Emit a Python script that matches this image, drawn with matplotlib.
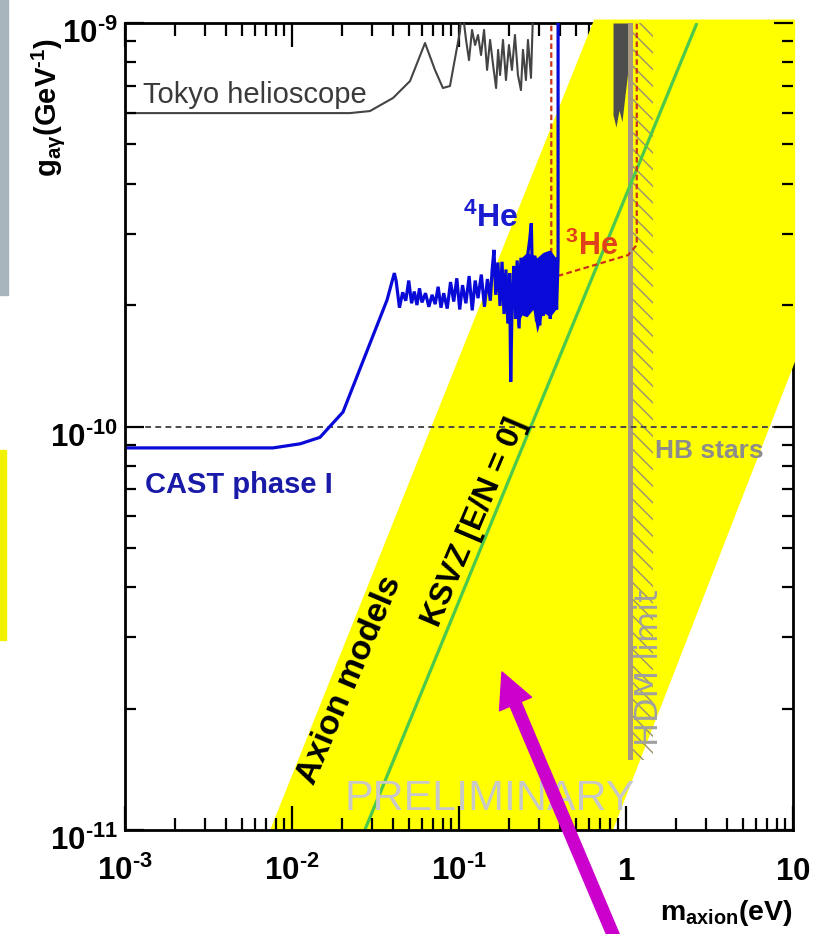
import numpy as np
import matplotlib
matplotlib.use('Agg')
import matplotlib.pyplot as plt
from matplotlib.patches import FancyArrowPatch, Rectangle
from matplotlib.transforms import ScaledTranslation

ARIAL = ['Liberation Sans', 'DejaVu Sans']
plt.rcParams['font.family'] = ARIAL
plt.rcParams['mathtext.fontset'] = 'custom'
for k in ['rm', 'bf', 'it', 'sf']:
    plt.rcParams['mathtext.' + k] = 'Liberation Sans:bold'
plt.rcParams['mathtext.default'] = 'rm'
plt.rcParams['hatch.linewidth'] = 1.0

# ---------------- data ----------------
x_lim = (1e-3, 10)
y_lim = (1e-11, 1e-9)
xtick_vals = [1e-3, 1e-2, 1e-1, 1, 10]
xtick_labels = [r'$10^{\text{-}3}$', r'$10^{\text{-}2}$', r'$10^{\text{-}1}$', r'$1$', r'$10$']
ytick_vals = [1e-11, 1e-10, 1e-9]
ytick_labels = [r'$10^{\text{-}11}$', r'$10^{\text{-}10}$', r'$10^{\text{-}9}$']

# axion-model band (yellow), vertices (m [eV], g [GeV^-1])
band_m = [0.0074, 0.645, 10.3, 10.3, 0.835]
band_g = [1e-11, 1.02e-9, 1.02e-9, 1.45e-10, 1e-11]

# KSVZ line
ksvz_m = [0.0273, 2.66]
ksvz_g = [1e-11, 1e-9]

# HB stars bound
hb_g = 1e-10

# Tokyo helioscope
tokyo_m = [0.001, 0.0222, 0.0293, 0.0403, 0.0509, 0.0626, 0.0718, 0.0801, 0.0883, 0.1014,
           0.1042, 0.1102, 0.1148, 0.1197, 0.1248, 0.1300, 0.1355, 0.1413, 0.1473, 0.1535,
           0.1600, 0.1668, 0.1715, 0.1762, 0.1834, 0.1911, 0.1991, 0.2075, 0.2163, 0.2254,
           0.2349, 0.2415, 0.2517, 0.2588, 0.2698, 0.2773, 0.2851]
tokyo_g = [5.98, 5.98, 6.05, 6.52, 7.18, 8.92, 7.65, 6.90, 6.98, 9.55,
           11.0, 9.08, 8.09, 9.61, 8.82, 9.34, 8.33, 9.61, 7.65, 9.08,
           7.87, 6.90, 8.58, 7.43, 9.08, 7.22, 8.82, 7.65, 9.34, 7.43,
           6.82, 8.58, 7.22, 9.08, 7.31, 10.5, 12.0]  # x 1e-10

# Tokyo helioscope high-mass part (filled block near 1 eV)
tokyo2_m = [0.836, 0.871, 0.908, 0.946, 0.987, 1.028, 1.06]
tokyo2_g = [5.92, 5.52, 6.08, 5.69, 6.64, 7.65, 9.08]  # x 1e-10, lower edge

# CAST phase I + 4He
cast_m = [0.001, 0.0077, 0.0112, 0.0147, 0.0202, 0.0371]
cast_g = [0.885, 0.885, 0.906, 0.94, 1.086, 2.06]  # x 1e-10
he4_m = [0.041, 0.042, 0.044, 0.046, 0.048, 0.050, 0.052, 0.054, 0.056, 0.058,
         0.060, 0.063, 0.066, 0.069, 0.072, 0.075, 0.078, 0.081, 0.085, 0.089,
         0.093, 0.097, 0.101, 0.105, 0.110, 0.115, 0.120, 0.125, 0.130, 0.136,
         0.142, 0.148, 0.154, 0.158, 0.162, 0.166, 0.171, 0.176, 0.181, 0.186,
         0.191, 0.196, 0.201, 0.204, 0.208, 0.213, 0.218, 0.223, 0.229, 0.235,
         0.241, 0.247, 0.253, 0.259, 0.265, 0.271, 0.277, 0.284, 0.291, 0.298,
         0.305, 0.312, 0.320, 0.328, 0.336, 0.344, 0.352, 0.360, 0.368, 0.376,
         0.384, 0.392, 0.392]
he4_g = [2.40, 2.30, 1.97, 2.15, 2.05, 2.30, 2.02, 2.16, 2.00, 2.20,
         2.03, 2.14, 1.98, 2.12, 2.01, 2.22, 1.97, 2.14, 1.96, 2.28,
         2.04, 2.33, 1.95, 2.24, 2.02, 2.36, 1.94, 2.30, 2.08, 2.38,
         1.98, 2.32, 2.05, 2.45, 2.74, 2.12, 2.55, 1.99, 2.56, 1.90,
         2.45, 1.80, 2.40, 1.29, 2.05, 2.50, 1.85, 2.58, 1.75, 2.62,
         1.90, 2.52, 1.95, 2.70, 2.90, 3.19, 2.05, 2.65, 1.82, 2.55,
         1.78, 2.60, 1.88, 2.64, 1.95, 2.70, 1.85, 2.58, 2.00, 2.62,
         1.95, 2.60, 12.0]  # x 1e-10
# envelope of the densely sampled 4He region
he4_env_m = [0.222, 0.238, 0.255, 0.277, 0.293, 0.318, 0.351, 0.387]
he4_env_hi = [2.48, 2.63, 2.70, 2.66, 2.62, 2.70, 2.74, 2.59]  # x 1e-10
he4_env_lo = [1.77, 1.89, 1.87, 1.95, 1.71, 1.92, 1.87, 1.97]  # x 1e-10

# 3He (dashed)
he3_m = [0.357, 0.357, 0.403, 1.03, 1.16, 1.16]
he3_g = [12.0, 2.35, 2.37, 2.66, 2.82, 12.0]  # x 1e-10

# HDM limit
hdm_m = [1.03, 1.10]
hdm_hatch_m = [1.10, 1.45]
hdm_g_low = 1.49e-11

# ---------------- figure ----------------
W, H = 814, 934
fig = plt.figure(figsize=(W / 100, H / 100), dpi=100)
fig.patch.set_facecolor('white')

# slide artefacts at the very left edge
fig.add_artist(Rectangle((0, 1 - 295 / H), 8 / W, 295 / H, transform=fig.transFigure,
                         color='#a9b5bd', zorder=0))
fig.add_artist(Rectangle((0, 1 - 640 / H), 6 / W, 190 / H, transform=fig.transFigure,
                         color='#f2f200', zorder=0))

rect = [125 / W, 1 - 830 / H, 668 / W, 807 / H]
ax_top = fig.add_axes(rect, zorder=0)
ax = fig.add_axes(rect, zorder=1, sharex=ax_top)
ax.patch.set_visible(False)

for a in (ax, ax_top):
    a.set_xscale('log')
    a.set_yscale('log')
    a.set_xlim(*x_lim)
    a.set_ylim(*y_lim)

# top ticks live on the lower axes so the yellow band hides them
ax_top.tick_params(axis='x', which='both', top=True, bottom=False, labeltop=False,
                   labelbottom=False, direction='in', color='black')
ax_top.tick_params(axis='x', which='major', length=17, width=1.6)
ax_top.tick_params(axis='x', which='minor', length=9, width=1.6)
ax_top.tick_params(axis='y', which='both', left=False, right=False, labelleft=False)
for s in ax_top.spines.values():
    s.set_visible(False)

# yellow axion band
ax.fill(band_m, band_g, color='#ffff00', lw=0, zorder=2.6, clip_on=False)

# Tokyo block near 1 eV
ax.fill_between(tokyo2_m, np.array(tokyo2_g) * 1e-10, y_lim[1], color='#4d4d4d', lw=0, zorder=3)

# HDM limit band and hatching
ax.fill_between(hdm_m, hdm_g_low, y_lim[1], color='#a8987f', lw=0, zorder=3)
ax.fill_between(hdm_hatch_m, hdm_g_low, y_lim[1], facecolor='none', edgecolor='#9a9070',
                hatch='\\\\', lw=0, zorder=3)

# KSVZ line
ax.plot(ksvz_m, ksvz_g, color='#4cc94c', lw=2.3, zorder=3.5, solid_capstyle='butt')

# HB stars
ax.axhline(hb_g, color='#4a4a4a', lw=1.4, ls=(0, (3, 2.2)), zorder=3.5)

# Tokyo helioscope
ax.plot(tokyo_m, np.array(tokyo_g) * 1e-10, color='#444444', lw=1.5, zorder=4)

# CAST / 4He
ax.fill_between(he4_env_m, np.array(he4_env_lo) * 1e-10, np.array(he4_env_hi) * 1e-10,
                color='#0a0ad8', lw=0, zorder=4.2)
ax.plot(cast_m + he4_m, np.array(cast_g + he4_g) * 1e-10, color='#0a0ad8', lw=2.3,
        zorder=4.2, solid_joinstyle='miter')

# 3He
ax.plot(he3_m, np.array(he3_g) * 1e-10, color='#c8321a', lw=1.6, ls=(0, (2.5, 1.5)), zorder=4.1)

# spines / ticks
for side in ['top', 'right', 'bottom', 'left']:
    ax.spines[side].set_linewidth(2)
ax.spines['bottom'].set_zorder(5)
ax.spines['left'].set_zorder(5)
ax.xaxis.set_zorder(5)
ax.yaxis.set_zorder(5)

ax.set_xticks(xtick_vals, labels=xtick_labels)
ax.set_yticks(ytick_vals, labels=ytick_labels)
ax.tick_params(axis='x', which='both', top=False, bottom=True, direction='in')
ax.tick_params(axis='x', which='major', length=17, width=1.6, pad=36, labelsize=22.5)
ax.tick_params(axis='x', which='minor', length=9, width=1.6)
ax.tick_params(axis='y', which='both', left=True, right=True, direction='in')
ax.tick_params(axis='y', which='major', length=14, width=1.6, pad=5, labelsize=22.5)
ax.tick_params(axis='y', which='minor', length=8, width=1.6)
ax.yaxis.set_minor_formatter(plt.NullFormatter())
ax.xaxis.set_minor_formatter(plt.NullFormatter())

for lab in ax.get_xticklabels():
    lab.set_va('baseline')
for lab in ax.get_yticklabels():
    lab.set_va('baseline')
    lab.set_transform(lab.get_transform() + ScaledTranslation(0, -0.20, fig.dpi_scale_trans))

# ---------------- texts ----------------
def fx(px):
    return (px - 125) / 668

def fy(py):
    return (830 - py) / 807

ax.text(fx(143), fy(103), 'Tokyo helioscope', transform=ax.transAxes, fontsize=21,
        color='#3a3a3a', ha='left', va='baseline', zorder=6)
ax.text(fx(145), fy(493), 'CAST phase I', transform=ax.transAxes, fontsize=21,
        fontweight='bold', color='#1a1aa8', ha='left', va='baseline', zorder=6)
ax.text(fx(463), fy(227), r'$^{4}$He', transform=ax.transAxes, fontsize=23,
        fontweight='bold', color='#1a1ad0', ha='left', va='baseline', zorder=6)
ax.text(fx(565), fy(255), r'$^{3}$He', transform=ax.transAxes, fontsize=22,
        fontweight='bold', color='#e0401a', ha='left', va='baseline', zorder=6)
ax.text(fx(655), fy(458), 'HB stars', transform=ax.transAxes, fontsize=19,
        fontweight='bold', color='#8c8c8c', ha='left', va='baseline', zorder=6)
ax.text(fx(649), fy(668), 'HDM limit', transform=ax.transAxes, fontsize=23,
        family=['DejaVu Sans'], color='#a0a0a0', rotation=90, ha='center', va='center', zorder=6)
ax.text(fx(350), fy(680), 'Axion models', transform=ax.transAxes, fontsize=24.5,
        fontweight='bold', color='black', rotation=67, rotation_mode='anchor',
        ha='center', va='center', zorder=6)
ax.text(fx(475), fy(522), 'KSVZ [E/N = 0]', transform=ax.transAxes, fontsize=23,
        fontweight='bold', color='black', rotation=67, rotation_mode='anchor',
        ha='center', va='center', zorder=6)
ax.text(fx(490), fy(810), 'PRELIMINARY', transform=ax.transAxes, fontsize=31,
        color='#c8c8c8', ha='center', va='baseline', zorder=6)

fig.text(48 / W, 1 - 108 / H, r'g$_{a\gamma}$(GeV$^{\text{-}1}$)', rotation=90, ha='center',
         va='center', fontsize=21, fontweight='bold')
fig.text(793 / W, 1 - 920 / H, r'm$_{axion}$(eV)', ha='right', va='baseline',
         fontsize=20.5, fontweight='bold')

# magenta arrow
arrow = FancyArrowPatch((617 / W, -10 / H), (502 / W, 1 - 672 / H), transform=fig.transFigure,
                        arrowstyle='simple,head_length=25,head_width=25,tail_width=8.5',
                        mutation_scale=1, color='#cc00cc', shrinkA=0, shrinkB=0, zorder=20)
fig.add_artist(arrow)

fig.savefig('out.png', dpi=100)
